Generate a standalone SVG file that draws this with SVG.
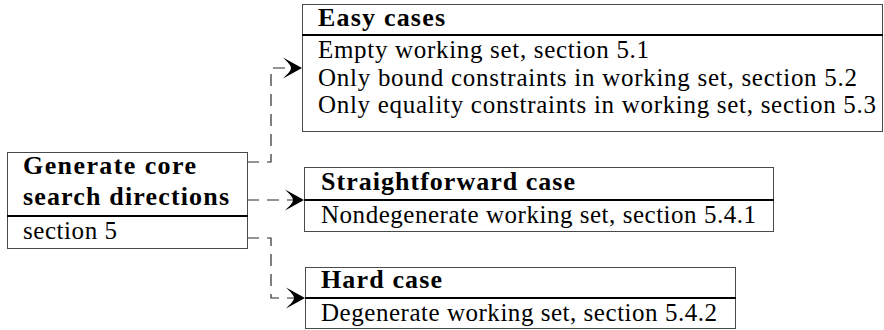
<svg xmlns="http://www.w3.org/2000/svg" width="884" height="330" viewBox="0 0 884 330">
<style>
  .box { fill: #ffffff; stroke: #4a4a4a; stroke-width: 1; }
  .sep { stroke: #000000; stroke-width: 2; }
  .t { font-family: "Liberation Serif", "Times New Roman", serif; font-size: 25px; fill: #000000; }
  .b { font-family: "Liberation Serif", "Times New Roman", serif; font-size: 26px; font-weight: bold; fill: #000000; }
  .conn { fill: none; stroke: #2a2a2a; stroke-width: 1.2; stroke-dasharray: 12 8; }
</style>
<defs>
  <marker id="arr" markerUnits="userSpaceOnUse" markerWidth="22" markerHeight="24" viewBox="0 0 22 24" refX="9" refY="12" orient="auto">
    <path d="M20,12 L1,1.5 C5,5.5 9,9 9,12 C9,15 5,18.5 1,22.5 Z" fill="#000000" stroke="none"/>
  </marker>
</defs>

<g id="connectors">
  <path class="conn" d="M247,162 H271 V68 H291" marker-end="url(#arr)"/>
  <path class="conn" d="M247,200 H293" marker-end="url(#arr)"/>
  <path class="conn" d="M247,238 H271 V298 H294" marker-end="url(#arr)"/>
</g>

<g id="core">
  <rect class="box" x="7.5" y="152.5" width="240" height="96"/>
  <line class="sep" x1="7" y1="216" x2="248" y2="216"/>
  <text class="b" x="23" y="174" textLength="173" lengthAdjust="spacing">Generate core</text>
  <text class="b" x="23" y="205" textLength="206" lengthAdjust="spacing">search directions</text>
  <text class="t" x="23" y="239" textLength="94" lengthAdjust="spacing">section 5</text>
</g>

<g id="easy">
  <rect class="box" x="302.5" y="4.5" width="580" height="127"/>
  <line class="sep" x1="302" y1="35" x2="883" y2="35"/>
  <text class="b" x="318" y="26" textLength="127" lengthAdjust="spacing">Easy cases</text>
  <text class="t" x="318" y="58" textLength="331" lengthAdjust="spacing">Empty working set, section 5.1</text>
  <text class="t" x="318" y="85.5" textLength="539" lengthAdjust="spacing">Only bound constraints in working set, section 5.2</text>
  <text class="t" x="318" y="113" textLength="558" lengthAdjust="spacing">Only equality constraints in working set, section 5.3</text>
</g>

<g id="straightforward">
  <rect class="box" x="304.5" y="167.5" width="469" height="64"/>
  <line class="sep" x1="304" y1="200" x2="774" y2="200"/>
  <text class="b" x="321" y="190" textLength="254" lengthAdjust="spacing">Straightforward case</text>
  <text class="t" x="321" y="223" textLength="435" lengthAdjust="spacing">Nondegenerate working set, section 5.4.1</text>
</g>

<g id="hard">
  <rect class="box" x="305.5" y="267.5" width="430" height="61"/>
  <line class="sep" x1="305" y1="298" x2="736" y2="298"/>
  <text class="b" x="321" y="288" textLength="121" lengthAdjust="spacing">Hard case</text>
  <text class="t" x="321" y="320.5" textLength="396" lengthAdjust="spacing">Degenerate working set, section 5.4.2</text>
</g>
</svg>
